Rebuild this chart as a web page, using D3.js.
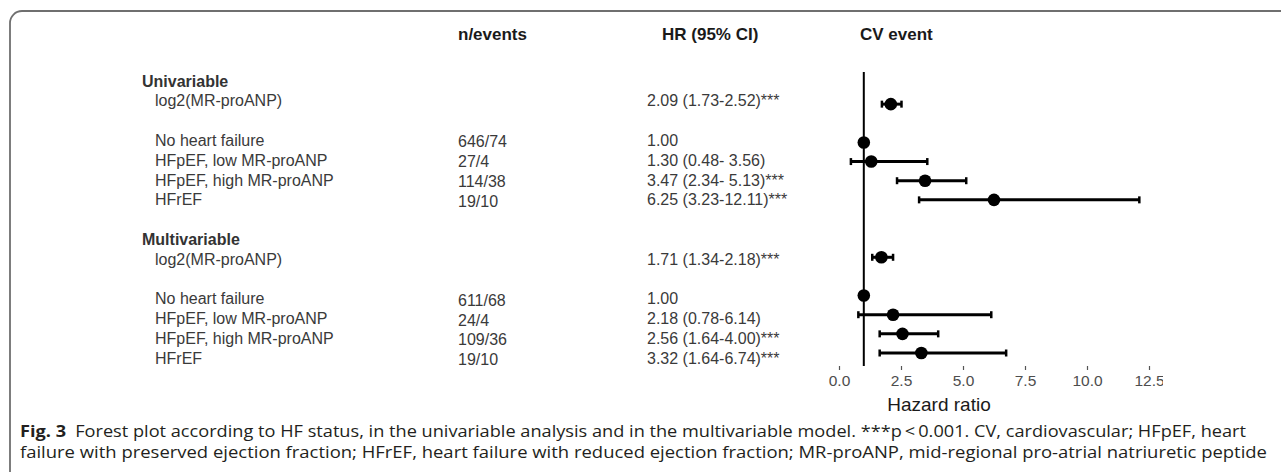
<!DOCTYPE html>
<html>
<head>
<meta charset="utf-8">
<script src="https://cdn.jsdelivr.net/npm/d3@7"></script>
<style>
  body { margin: 0; background: #fff; }
  svg { display: block; }
</style>
</head>
<body>
<div id="chart"></div>
<script>
// data
var groups = ["Univariable", "Multivariable"];
var rowLabels = ["log2(MR-proANP)", "No heart failure", "HFpEF, low MR-proANP", "HFpEF, high MR-proANP", "HFrEF"];
var nEventsUni = ["", "646/74", "27/4", "114/38", "19/10"];
var nEventsMulti = ["", "611/68", "24/4", "109/36", "19/10"];
var hrUni = [2.09, 1.00, 1.30, 3.47, 6.25];
var lowUni = [1.73, null, 0.48, 2.34, 3.23];
var highUni = [2.52, null, 3.56, 5.13, 12.11];
var hrTextUni = ["2.09 (1.73-2.52)***", "1.00", "1.30 (0.48- 3.56)", "3.47 (2.34- 5.13)***", "6.25 (3.23-12.11)***"];
var hrMulti = [1.71, 1.00, 2.18, 2.56, 3.32];
var lowMulti = [1.34, null, 0.78, 1.64, 1.64];
var highMulti = [2.18, null, 6.14, 4.00, 6.74];
var hrTextMulti = ["1.71 (1.34-2.18)***", "1.00", "2.18 (0.78-6.14)", "2.56 (1.64-4.00)***", "3.32 (1.64-6.74)***"];
var xTicks = [0, 2.5, 5, 7.5, 10, 12.5];
var headers = ["n/events", "HR (95% CI)", "CV event"];
var captionBold = "Fig. 3";
var captionLine1 = "Forest plot according to HF status, in the univariable analysis and in the multivariable model. ***p\u2009<\u20090.001. CV, cardiovascular; HFpEF, heart";
var captionLine2 = "failure with preserved ejection fraction; HFrEF, heart failure with reduced ejection fraction; MR-proANP, mid-regional pro-atrial natriuretic peptide";

var width = 1281, height = 472;
var rowSlots = [1, 3, 4, 5, 6];   // slot of each row inside a group, group header is slot 0
var groupStep = 8;

var rows = [];
groups.forEach(function(g, gi){
    var hr = gi === 0 ? hrUni : hrMulti,
        lo = gi === 0 ? lowUni : lowMulti,
        hi = gi === 0 ? highUni : highMulti,
        txt = gi === 0 ? hrTextUni : hrTextMulti,
        ne = gi === 0 ? nEventsUni : nEventsMulti;
    rowLabels.forEach(function(lab, i){
        rows.push({slot: gi * groupStep + rowSlots[i], label: lab, hr: hr[i], lo: lo[i], hi: hi[i], text: txt[i], n: ne[i]});
    });
});

var svg = d3.select("#chart")
    .append("svg")
    .attr("width", width)
    .attr("height", height)
    .style("font-family", "'Liberation Sans', Arial, sans-serif");

// frame (cropped box: only left and top edges visible)
svg.append("path")
    .attr("d", "M10," + height + " L10,23 A12,12 0 0 1 22,11 L" + width + ",11")
    .attr("fill", "none")
    .attr("stroke", "#6f6f6f")
    .attr("stroke-width", 1.8);

var x = d3.scaleLinear().domain([0, 12.5]).range([839, 1149]);
var yDot = d3.scaleLinear().domain([0, 14]).range([85, 353]);
var yText = d3.scaleLinear().domain([0, 14]).range([81, 358]);

// column headers
var headerX = [458, 662, 860];
svg.selectAll(".colhead")
    .data(headers).enter().append("text")
        .attr("class", "colhead")
        .attr("x", function(d, i){ return headerX[i] })
        .attr("y", 34)
        .attr("dy", "0.35em")
        .attr("font-size", "17px")
        .attr("font-weight", "bold")
        .attr("fill", "#1a1a1a")
        .text(function(d){ return d });

// group headers
svg.selectAll(".grouphead")
    .data(groups).enter().append("text")
        .attr("class", "grouphead")
        .attr("x", 142)
        .attr("y", function(d, i){ return yText(i * groupStep) })
        .attr("dy", "0.35em")
        .attr("font-size", "16px")
        .attr("font-weight", "bold")
        .attr("fill", "#333")
        .text(function(d){ return d });

var rowText = svg.append("g")
    .attr("font-size", "16px")
    .attr("fill", "#3a3a3a");

rowText.selectAll(".rowlabel")
    .data(rows).enter().append("text")
        .attr("x", 155)
        .attr("y", function(d){ return yText(d.slot) })
        .attr("dy", "0.35em")
        .text(function(d){ return d.label });

rowText.selectAll(".nev")
    .data(rows).enter().append("text")
        .attr("x", 458)
        .attr("y", function(d){ return yText(d.slot) + 1.5 })
        .attr("dy", "0.35em")
        .text(function(d){ return d.n });

rowText.selectAll(".hrtext")
    .data(rows).enter().append("text")
        .attr("x", 647)
        .attr("y", function(d){ return yText(d.slot) })
        .attr("dy", "0.35em")
        .text(function(d){ return d.text });

// reference line at HR = 1
svg.append("line")
    .attr("x1", x(1)).attr("x2", x(1))
    .attr("y1", 72).attr("y2", 366)
    .attr("stroke", "#000")
    .attr("stroke-width", 2);

// confidence intervals
var ci = svg.append("g").selectAll(".ci")
    .data(rows.filter(function(d){ return d.lo !== null })).enter().append("g")
        .attr("class", "ci");

ci.append("line")
    .attr("x1", function(d){ return x(d.lo) })
    .attr("x2", function(d){ return x(d.hi) })
    .attr("y1", function(d){ return yDot(d.slot) })
    .attr("y2", function(d){ return yDot(d.slot) })
    .attr("stroke", "#000")
    .attr("stroke-width", 3);

ci.selectAll(".cap")
    .data(function(d){ return [{v: d.lo, s: d.slot}, {v: d.hi, s: d.slot}] }).enter().append("line")
        .attr("x1", function(d){ return x(d.v) })
        .attr("x2", function(d){ return x(d.v) })
        .attr("y1", function(d){ return yDot(d.s) - 3.5 })
        .attr("y2", function(d){ return yDot(d.s) + 3.5 })
        .attr("stroke", "#000")
        .attr("stroke-width", 2.5);

// point estimates
svg.append("g").selectAll(".dot")
    .data(rows).enter().append("circle")
        .attr("cx", function(d){ return x(d.hr) })
        .attr("cy", function(d){ return yDot(d.slot) })
        .attr("r", 6.3)
        .attr("fill", "#000");

// x axis: ticks and labels only, cut at the panel edge
svg.append("clipPath").attr("id", "axclip")
    .append("rect").attr("x", 700).attr("y", 355).attr("width", 463).attr("height", 45);

var axis = svg.append("g")
    .attr("clip-path", "url(#axclip)")
    .append("g")
    .attr("transform", "translate(0,366)")
    .call(d3.axisBottom(x).tickValues(xTicks).tickFormat(d3.format(".1f")).tickSize(4).tickPadding(5));

axis.select(".domain").remove();
axis.selectAll(".tick line").attr("stroke", "#555").attr("stroke-width", 1.2);
axis.selectAll(".tick text")
    .attr("fill", "#4d4d4d")
    .attr("font-size", "15.5px")
    .attr("font-family", "'Liberation Sans', Arial, sans-serif");

svg.append("text")
    .attr("x", 939)
    .attr("y", 404)
    .attr("dy", "0.35em")
    .attr("text-anchor", "middle")
    .attr("font-size", "19px")
    .attr("fill", "#1a1a1a")
    .text("Hazard ratio");

// caption
var cap = svg.append("g")
    .style("font-family", "'Open Sans', 'Noto Sans', sans-serif")
    .attr("font-size", "16.5px")
    .attr("fill", "#231f20");

var l1 = cap.append("text")
    .attr("x", 20)
    .attr("y", 437)
    .attr("textLength", 1226)
    .attr("lengthAdjust", "spacingAndGlyphs");
l1.append("tspan").attr("font-weight", "bold").text(captionBold);
l1.append("tspan").text("\u2002" + captionLine1);

cap.append("text")
    .attr("x", 20)
    .attr("y", 458)
    .attr("textLength", 1247)
    .attr("lengthAdjust", "spacingAndGlyphs")
    .text(captionLine2);
</script>
</body>
</html>
